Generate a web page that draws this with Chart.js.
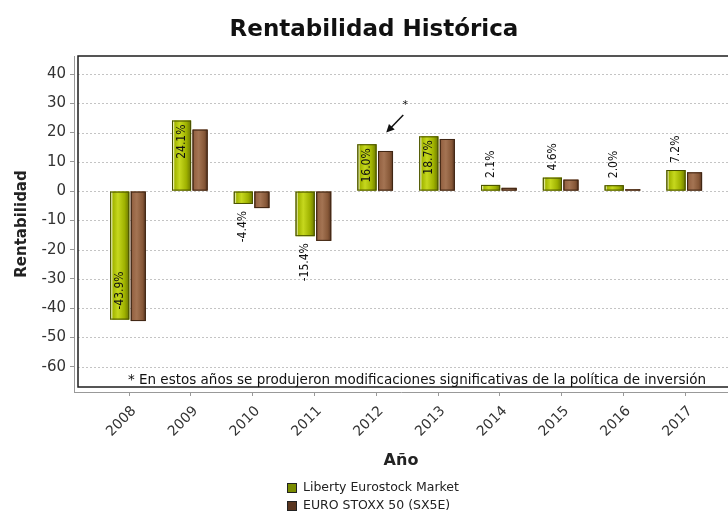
<!DOCTYPE html>
<html>
<head>
<meta charset="utf-8">
<script src="https://cdn.jsdelivr.net/npm/chart.js@4.4.1/dist/chart.umd.min.js"></script>
<style>
  html, body { margin: 0; padding: 0; background: #fff; }
  #wrap { width: 728px; height: 512px; }
</style>
</head>
<body>
<div id="wrap"><canvas id="rentChart" width="728" height="512"></canvas></div>
<script>
'use strict';
// datos
const years = [2008, 2009, 2010, 2011, 2012, 2013, 2014, 2015, 2016, 2017];
const liberty = [-43.9, 24.1, -4.4, -15.4, 16.0, 18.7, 2.1, 4.6, 2.0, 7.2];
const eurostoxx = [-44.4, 21.0, -5.8, -17.0, 13.7, 17.8, 1.1, 3.9, 0.6, 6.4];
const yTicks = [40, 30, 20, 10, 0, -10, -20, -30, -40, -50, -60];
const seriesNames = ['Liberty Eurostock Market', 'EURO STOXX 50 (SX5E)'];
const chartTitle = 'Rentabilidad Histórica';
const footnote = '* En estos años se produjeron modificaciones significativas de la política de inversión';
const markedYear = 2012;

const FONT = '"DejaVu Sans", sans-serif';
const CONDENSED = '"DejaVu Sans Condensed", "DejaVu Sans", sans-serif';

const paints = [
    {
        stops: [[0, '#5d6800'], [0.07, '#eef4b8'], [0.15, '#a3b600'], [0.4, '#c6d81e'], [0.75, '#9fb200'], [1, '#6a7600']],
        edge: '#485000',
        legend: '#7a8c00'
    },
    {
        stops: [[0, '#5e3a22'], [0.12, '#966444'], [0.4, '#a47453'], [0.78, '#875838'], [1, '#573420']],
        edge: '#3f2614',
        legend: '#5a3620'
    }
];

const plotDecor = {
    id: 'plotDecor',
    beforeDatasetsDraw(chart) {
        const { ctx, chartArea: a, scales: { y } } = chart;
        const l = a.left + 4, b = a.bottom - 5;
        ctx.save();
        ctx.strokeStyle = '#c4c4c4';
        ctx.lineWidth = 1;
        ctx.setLineDash([2, 2]);
        yTicks.forEach(v => {
            const py = Math.round(y.getPixelForValue(v)) + 0.5;
            ctx.beginPath();
            ctx.moveTo(l, py);
            ctx.lineTo(a.right, py);
            ctx.stroke();
        });
        ctx.setLineDash([]);
        ctx.strokeStyle = '#1e1e1e';
        ctx.lineWidth = 1.5;
        ctx.strokeRect(l, a.top, a.right + 20 - l, b - a.top);
        ctx.restore();
    },
    afterDatasetsDraw(chart) {
        const { ctx, scales: { x, y } } = chart;
        ctx.save();
        // barras con degradado
        chart.data.datasets.forEach((ds, di) => {
            const p = paints[di];
            chart.getDatasetMeta(di).data.forEach(el => {
                const { x: bx, y: by, base, width } = el.getProps(['x', 'y', 'base', 'width'], true);
                const x0 = bx - width / 2;
                const top = Math.min(by, base);
                const h = Math.abs(base - by);
                const g = ctx.createLinearGradient(x0, 0, x0 + width, 0);
                p.stops.forEach(s => g.addColorStop(s[0], s[1]));
                ctx.fillStyle = g;
                ctx.fillRect(x0, top, width, h);
                ctx.strokeStyle = p.edge;
                ctx.lineWidth = 1;
                ctx.strokeRect(x0 + 0.5, top + 0.5, width - 1, Math.max(h - 1, 0));
            });
        });

        // etiquetas de valor (serie 1)
        ctx.font = '12px ' + CONDENSED;
        ctx.fillStyle = '#111';
        ctx.textBaseline = 'middle';
        chart.getDatasetMeta(0).data.forEach((el, i) => {
            const v = liberty[i];
            const txt = v.toFixed(1) + '%';
            const w = ctx.measureText(txt).width;
            const { x: bx, y: by, base } = el.getProps(['x', 'y', 'base'], true);
            const inside = Math.abs(base - by) > w + 10;
            let py, align;
            if (v >= 0) {
                if (inside) { py = by + 4; align = 'right'; } else { py = by - 7; align = 'left'; }
            } else {
                if (inside) { py = by - 10; align = 'left'; } else { py = by + 7; align = 'right'; }
            }
            ctx.save();
            ctx.translate(bx, py);
            ctx.rotate(-Math.PI / 2);
            ctx.textAlign = align;
            ctx.fillText(txt, 0, 0);
            ctx.restore();
        });

        // flecha de anotacion
        const cx = x.getPixelForValue(markedYear);
        const tipX = cx + 10, tipY = y.getPixelForValue(20);
        const tailX = cx + 27, tailY = y.getPixelForValue(26);
        const ang = Math.atan2(tipY - tailY, tipX - tailX);
        ctx.strokeStyle = '#111';
        ctx.fillStyle = '#111';
        ctx.lineWidth = 1.5;
        ctx.beginPath();
        ctx.moveTo(tailX, tailY);
        ctx.lineTo(tipX - 5 * Math.cos(ang), tipY - 5 * Math.sin(ang));
        ctx.stroke();
        ctx.beginPath();
        ctx.moveTo(tipX, tipY);
        ctx.lineTo(tipX - 8 * Math.cos(ang) + 4 * Math.sin(ang), tipY - 8 * Math.sin(ang) - 4 * Math.cos(ang));
        ctx.lineTo(tipX - 8 * Math.cos(ang) - 4 * Math.sin(ang), tipY - 8 * Math.sin(ang) + 4 * Math.cos(ang));
        ctx.closePath();
        ctx.fill();
        ctx.font = '11px ' + FONT;
        ctx.textAlign = 'center';
        ctx.fillText('*', cx + 29, y.getPixelForValue(29.5));

        // nota al pie
        ctx.font = '13.5px ' + FONT;
        ctx.textAlign = 'center';
        ctx.textBaseline = 'alphabetic';
        ctx.fillStyle = '#111';
        ctx.fillText(footnote, 417, 384);
        ctx.restore();
    },
    afterDraw(chart) {
        const { ctx } = chart;
        ctx.save();
        ctx.font = 'bold 23px ' + FONT;
        ctx.fillStyle = '#111';
        ctx.textAlign = 'center';
        ctx.textBaseline = 'middle';
        ctx.fillText(chartTitle, 374, 30);

        ctx.font = '12.5px ' + FONT;
        ctx.textAlign = 'left';
        chart.data.datasets.forEach((ds, i) => {
            const ty = 488 + i * 18;
            ctx.fillStyle = paints[i].legend;
            ctx.fillRect(287, ty - 5, 10, 10);
            ctx.strokeStyle = '#222';
            ctx.lineWidth = 1;
            ctx.strokeRect(287.5, ty - 4.5, 9, 9);
            ctx.fillStyle = '#222';
            ctx.fillText(ds.label, 303, ty);
        });
        ctx.restore();
    }
};

new Chart(document.getElementById('rentChart'), {
    type: 'bar',
    data: {
        datasets: [
            {
                label: seriesNames[0],
                data: years.map((yr, i) => ({ x: yr, y: liberty[i] })),
                backgroundColor: '#a3b600',
                borderColor: paints[0].edge,
                categoryPercentage: 0.6,
                barPercentage: 1.03
            },
            {
                label: seriesNames[1],
                data: years.map((yr, i) => ({ x: yr, y: eurostoxx[i] })),
                backgroundColor: '#875838',
                borderColor: paints[1].edge,
                categoryPercentage: 0.6,
                barPercentage: 0.81
            }
        ]
    },
    options: {
        responsive: false,
        animation: false,
        devicePixelRatio: 1,
        layout: { padding: { top: 56, left: 0, right: 0, bottom: 40 } },
        plugins: {
            legend: { display: false },
            tooltip: { enabled: false },
            title: { display: false }
        },
        scales: {
            x: {
                type: 'linear',
                min: 2007.110,
                max: 2017.691,
                offset: false,
                afterBuildTicks: s => { s.ticks = years.map(v => ({ value: v })); },
                afterFit: s => { s.height = 80; },
                ticks: {
                    autoSkip: false,
                    minRotation: 45,
                    maxRotation: 45,
                    padding: 7,
                    labelOffset: 5,
                    color: '#333',
                    font: { family: FONT, size: 14 },
                    callback: v => String(v)
                },
                grid: { display: true, offset: false, drawOnChartArea: false, tickLength: 4, color: '#999' },
                border: { display: true, color: '#999' },
                title: {
                    display: true,
                    text: 'Año',
                    color: '#222',
                    font: { family: FONT, size: 16, weight: 'bold' },
                    padding: { top: 0, bottom: 2 }
                }
            },
            y: {
                min: -68.64,
                max: 46.15,
                afterBuildTicks: s => { s.ticks = yTicks.map(v => ({ value: v })); },
                afterFit: s => { s.width = 74; },
                ticks: {
                    padding: 4,
                    color: '#333',
                    font: { family: FONT, size: 15 }
                },
                grid: { display: true, drawOnChartArea: false, tickLength: 4, color: '#999' },
                border: { display: true, color: '#999' },
                title: {
                    display: true,
                    text: 'Rentabilidad',
                    color: '#222',
                    font: { family: FONT, size: 15, weight: 'bold' },
                    padding: { top: 13, bottom: 0 }
                }
            }
        }
    },
    plugins: [plotDecor]
});
</script>
</body>
</html>
